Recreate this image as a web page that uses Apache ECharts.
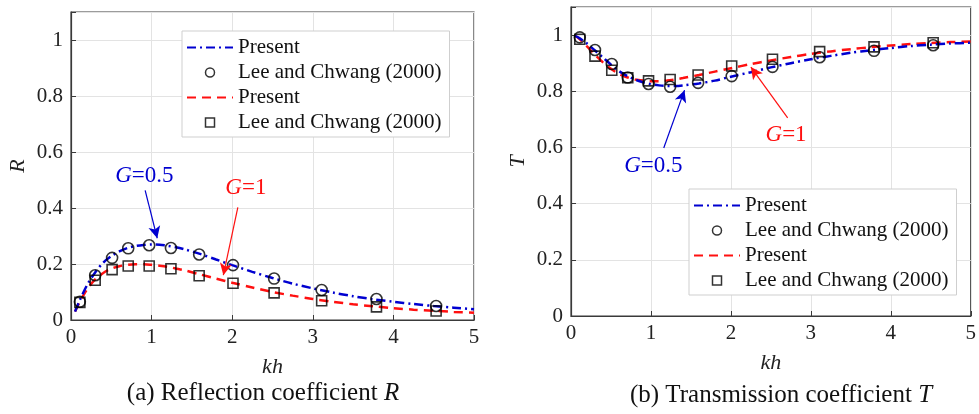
<!DOCTYPE html>
<html>
<head>
<meta charset="utf-8">
<script src="https://cdn.jsdelivr.net/npm/echarts@6/dist/echarts.min.js"></script>
<style>
  html, body { margin: 0; padding: 0; background: #fff; }
  #chart { width: 979px; height: 414px; }
</style>
</head>
<body>
<div id="chart"></div>
<script>
// kh where Lee and Chwang (2000) points are given
var khRef = [0.11, 0.30, 0.51, 0.71, 0.97, 1.24, 1.59, 2.01, 2.52, 3.11, 3.79, 4.53];
// reflection, Lee and Chwang
var refR05 = [0.065, 0.160, 0.222, 0.256, 0.267, 0.257, 0.234, 0.196, 0.148, 0.107, 0.075, 0.050];
var refR1 = [0.063, 0.142, 0.180, 0.193, 0.193, 0.183, 0.158, 0.131, 0.097, 0.069, 0.047, 0.032];
// transmission, Lee and Chwang
var refT05 = [0.992, 0.947, 0.897, 0.849, 0.826, 0.816, 0.830, 0.854, 0.887, 0.921, 0.944, 0.964];
var refT1 = [0.985, 0.925, 0.875, 0.848, 0.837, 0.842, 0.858, 0.890, 0.914, 0.941, 0.958, 0.973];

// present curves
var khLine = [0.05, 0.1, 0.2, 0.3, 0.4, 0.5, 0.6, 0.7, 0.8, 0.9, 1.0, 1.1, 1.2, 1.3, 1.4, 1.6, 1.8, 2.0,
  2.25, 2.5, 2.75, 3.0, 3.25, 3.5, 3.75, 4.0, 4.25, 4.5, 4.75, 5.0];
var presR05 = [0.030, 0.065, 0.125, 0.170, 0.205, 0.228, 0.245, 0.257, 0.264, 0.268, 0.270, 0.269, 0.265, 0.260, 0.253, 0.236, 0.216, 0.196,
  0.172, 0.150, 0.130, 0.113, 0.098, 0.085, 0.074, 0.065, 0.057, 0.050, 0.044, 0.038];
var presR1 = [0.030, 0.060, 0.110, 0.145, 0.168, 0.183, 0.192, 0.197, 0.199, 0.199, 0.197, 0.194, 0.190, 0.184, 0.178, 0.163, 0.148, 0.133,
  0.116, 0.100, 0.087, 0.075, 0.065, 0.056, 0.049, 0.042, 0.037, 0.033, 0.029, 0.026];
var presT05 = [0.997, 0.990, 0.970, 0.945, 0.920, 0.895, 0.872, 0.855, 0.842, 0.832, 0.825, 0.821, 0.819, 0.819, 0.821, 0.828, 0.838, 0.852,
  0.868, 0.885, 0.900, 0.914, 0.926, 0.937, 0.946, 0.954, 0.961, 0.966, 0.970, 0.973];
var presT1 = [0.997, 0.988, 0.960, 0.930, 0.903, 0.880, 0.862, 0.850, 0.842, 0.838, 0.836, 0.836, 0.838, 0.842, 0.847, 0.858, 0.870, 0.882,
  0.897, 0.910, 0.922, 0.933, 0.942, 0.950, 0.957, 0.963, 0.968, 0.972, 0.975, 0.977];

var xTicks = [0, 1, 2, 3, 4, 5];

var FONT = 'Liberation Serif';
var BLUE = '#0000d0';
var RED = '#ff1010';
var SQUARE = 'path://M0,0L10,0L10,10L0,10Z';

function pairs(xs, ys) {
  return xs.map(function (x, i) { return [x, ys[i]]; });
}

function xAxisOpt(idx) {
  return {
    gridIndex: idx, type: 'value', min: xTicks[0], max: xTicks[xTicks.length - 1], interval: 1,
    name: 'kh', nameLocation: 'middle', nameGap: 36,
    nameTextStyle: { fontFamily: FONT, fontStyle: 'italic', fontSize: 22, color: '#222' },
    axisLine: { show: true, lineStyle: { color: '#3a3a3a', width: 1.2 } },
    axisTick: { show: true, inside: true, length: 5, lineStyle: { color: '#3a3a3a' } },
    axisLabel: { fontFamily: FONT, fontSize: 21, color: '#222', margin: 7 },
    splitLine: { show: true, lineStyle: { color: '#e3e3e3', width: 1 } }
  };
}

function yAxisOpt(idx, name) {
  return {
    gridIndex: idx, type: 'value', min: 0, max: 1.1, interval: 0.2,
    name: name, nameLocation: 'middle', nameGap: 42,
    nameTextStyle: { fontFamily: FONT, fontStyle: 'italic', fontSize: 22, color: '#222' },
    axisLine: { show: true, lineStyle: { color: '#3a3a3a', width: 1.2 } },
    axisTick: { show: true, inside: true, length: 5, lineStyle: { color: '#3a3a3a' } },
    axisLabel: {
      fontFamily: FONT, fontSize: 21, color: '#222', margin: 8,
      formatter: function (v) {
        if (v > 1.05) return '';
        return String(Math.round(v * 10) / 10);
      }
    },
    splitLine: { show: true, lineStyle: { color: '#e3e3e3', width: 1 } }
  };
}

function arrowLine(color, from, to) {
  return {
    silent: true, symbol: ['none', 'arrow'], symbolSize: [9, 12],
    lineStyle: { color: color, width: 1.2, type: 'solid' },
    label: { show: false },
    data: [[{ coord: from }, { coord: to }]]
  };
}

function gLabel(color, coord, text) {
  return {
    silent: true, symbol: 'circle', symbolSize: 1,
    itemStyle: { color: 'rgba(0,0,0,0)' },
    label: {
      show: true, position: 'inside', formatter: '{i|G}{n|' + text + '}',
      rich: {
        i: { fontFamily: FONT, fontStyle: 'italic', fontSize: 23, color: color },
        n: { fontFamily: FONT, fontStyle: 'normal', fontSize: 23, color: color }
      }
    },
    data: [{ coord: coord }]
  };
}

var noSymbol = { color: 'rgba(0,0,0,0)', borderWidth: 0, opacity: 0 };
var hollow = { color: 'rgba(0,0,0,0)', borderColor: '#000', borderWidth: 1.5 };

function legendOpt(left, top, suffix) {
  return {
    show: true, orient: 'vertical', left: left, top: top,
    itemWidth: 46, itemHeight: 9, itemGap: 4, symbolKeepAspect: true,
    padding: [6, 8, 4, 4],
    backgroundColor: '#fff', borderColor: '#cfcfcf', borderWidth: 1,
    textStyle: { fontFamily: FONT, fontSize: 21, color: '#111' },
    formatter: function (n) { return n.replace(/ \[.*\]$/, ''); },
    data: [
      { name: 'Present [' + suffix + '1]', itemStyle: noSymbol },
      { name: 'Lee and Chwang (2000) [' + suffix + '1]', icon: 'circle', itemStyle: hollow },
      { name: 'Present [' + suffix + '2]', itemStyle: noSymbol },
      { name: 'Lee and Chwang (2000) [' + suffix + '2]', icon: SQUARE, itemStyle: hollow }
    ]
  };
}

function capStyle(text, italic) {
  return {
    text: '{n|' + text + '}{i|' + italic + '}', align: 'center', verticalAlign: 'middle',
    rich: {
      n: { fontFamily: FONT, fontStyle: 'normal', fontSize: 25, fill: '#111' },
      i: { fontFamily: FONT, fontStyle: 'italic', fontSize: 25, fill: '#111' }
    }
  };
}

var markerStyle = { color: 'rgba(0,0,0,0)', borderColor: '#000', borderWidth: 1.6 };

var chart = echarts.init(document.getElementById('chart'));
chart.setOption({
  animation: false,
  backgroundColor: '#fff',
  textStyle: { fontFamily: FONT },
  grid: [
    { left: 71, top: 12, width: 403, height: 308, show: true, borderColor: '#3a3a3a', borderWidth: 1.2, backgroundColor: 'transparent' },
    { left: 571, top: 7, width: 403, height: 309, show: true, borderColor: '#3a3a3a', borderWidth: 1.2, backgroundColor: 'transparent' }
  ],
  xAxis: [xAxisOpt(0), xAxisOpt(1)],
  yAxis: [yAxisOpt(0, 'R'), yAxisOpt(1, 'T')],
  legend: [legendOpt(182, 31, 'a'), legendOpt(689, 189, 'b')],
  graphic: [
    { type: 'text', x: 263, y: 393, style: capStyle('(a) Reflection coefficient ', 'R') },
    { type: 'text', x: 781, y: 395, style: capStyle('(b) Transmission coefficient ', 'T') }
  ],
  series: [
    {
      name: 'Present [a1]', type: 'line', xAxisIndex: 0, yAxisIndex: 0, symbol: 'none', smooth: 0.3, z: 3,
      lineStyle: { color: BLUE, width: 2.5, type: [9, 4, 2, 4] }, itemStyle: { color: BLUE },
      data: pairs(khLine, presR05),
      markLine: arrowLine(BLUE, [0.92, 0.463], [1.07, 0.292]),
      markPoint: gLabel(BLUE, [0.91, 0.516], '=0.5')
    },
    {
      name: 'Lee and Chwang (2000) [a1]', type: 'scatter', xAxisIndex: 0, yAxisIndex: 0, symbol: 'circle', symbolSize: 11, z: 4,
      itemStyle: markerStyle, data: pairs(khRef, refR05)
    },
    {
      name: 'Present [a2]', type: 'line', xAxisIndex: 0, yAxisIndex: 0, symbol: 'none', smooth: 0.3, z: 2,
      lineStyle: { color: RED, width: 2.5, type: [9, 6] }, itemStyle: { color: RED },
      data: pairs(khLine, presR1),
      markLine: arrowLine(RED, [2.07, 0.402], [1.89, 0.16]),
      markPoint: gLabel(RED, [2.17, 0.47], '=1')
    },
    {
      name: 'Lee and Chwang (2000) [a2]', type: 'scatter', xAxisIndex: 0, yAxisIndex: 0, symbol: 'rect', symbolSize: 10, z: 4,
      itemStyle: markerStyle, data: pairs(khRef, refR1)
    },
    {
      name: 'Present [b1]', type: 'line', xAxisIndex: 1, yAxisIndex: 1, symbol: 'none', smooth: 0.3, z: 3,
      lineStyle: { color: BLUE, width: 2.5, type: [9, 4, 2, 4] }, itemStyle: { color: BLUE },
      data: pairs(khLine, presT05),
      markLine: arrowLine(BLUE, [1.16, 0.598], [1.42, 0.804]),
      markPoint: gLabel(BLUE, [1.03, 0.534], '=0.5')
    },
    {
      name: 'Lee and Chwang (2000) [b1]', type: 'scatter', xAxisIndex: 1, yAxisIndex: 1, symbol: 'circle', symbolSize: 11, z: 4,
      itemStyle: markerStyle, data: pairs(khRef, refT05)
    },
    {
      name: 'Present [b2]', type: 'line', xAxisIndex: 1, yAxisIndex: 1, symbol: 'none', smooth: 0.3, z: 2,
      lineStyle: { color: RED, width: 2.5, type: [9, 6] }, itemStyle: { color: RED },
      data: pairs(khLine, presT1),
      markLine: arrowLine(RED, [2.71, 0.705], [2.25, 0.886]),
      markPoint: gLabel(RED, [2.69, 0.644], '=1')
    },
    {
      name: 'Lee and Chwang (2000) [b2]', type: 'scatter', xAxisIndex: 1, yAxisIndex: 1, symbol: 'rect', symbolSize: 10, z: 4,
      itemStyle: markerStyle, data: pairs(khRef, refT1)
    }
  ]
});
</script>
</body>
</html>
